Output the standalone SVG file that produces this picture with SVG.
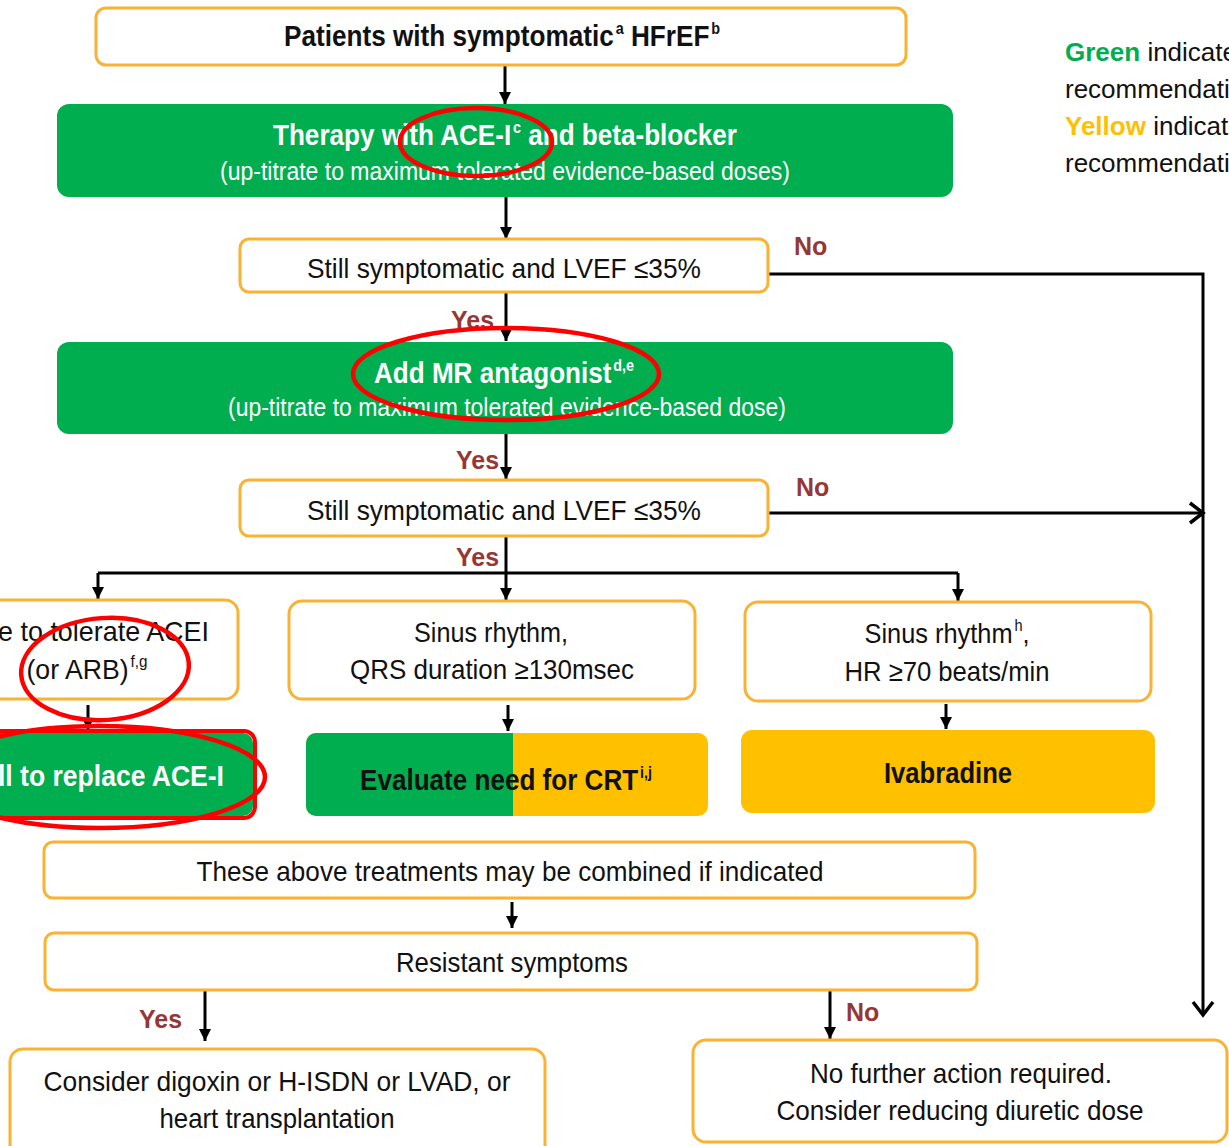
<svg xmlns="http://www.w3.org/2000/svg" width="1229" height="1146" viewBox="0 0 1229 1146">
<style>
text{font-family:"Liberation Sans Narrow","Liberation Sans",Arial,sans-serif;}
.box{fill:#fff;stroke:#F9B233;stroke-width:3;}
.g{fill:#00AD4F;}
.y{fill:#FFC000;}
.t{font-size:28px;fill:#111;text-anchor:middle;}
.tb{font-size:29px;font-weight:bold;fill:#111;text-anchor:middle;}
.tw{font-size:29px;font-weight:bold;fill:#fff;text-anchor:middle;}
.ts{font-size:25px;fill:#fff;text-anchor:middle;}
.lbl{font-size:25px;font-weight:bold;fill:#953735;}
.sup{font-size:16px;}
.ln{stroke:#000;stroke-width:3;fill:none;}
.red{fill:none;stroke:#F00;stroke-width:4.5;}
.leg{font-size:26px;fill:#111;}
</style>
<defs>
<marker id="ah" markerUnits="userSpaceOnUse" markerWidth="14" markerHeight="14" refX="12" refY="6" orient="auto">
<path d="M0,0 L12,6 L0,12 z" fill="#000"/>
</marker>
<marker id="va" markerUnits="userSpaceOnUse" markerWidth="20" markerHeight="24" refX="15" refY="12" orient="auto">
<path d="M2,2 L15,12 L2,22" fill="none" stroke="#000" stroke-width="3.5"/>
</marker>
</defs>

<g id="connectors">
<line class="ln" x1="505" y1="66" x2="505" y2="104" marker-end="url(#ah)"/>
<line class="ln" x1="506" y1="197" x2="506" y2="239" marker-end="url(#ah)"/>
<line class="ln" x1="506" y1="292" x2="506" y2="341" marker-end="url(#ah)"/>
<line class="ln" x1="506" y1="434" x2="506" y2="479" marker-end="url(#ah)"/>
<polyline class="ln" points="506,537 506,573"/>
<polyline class="ln" points="98,573 958,573"/>
<line class="ln" x1="98" y1="573" x2="98" y2="599" marker-end="url(#ah)"/>
<line class="ln" x1="506" y1="573" x2="506" y2="600" marker-end="url(#ah)"/>
<line class="ln" x1="958" y1="573" x2="958" y2="601" marker-end="url(#ah)"/>
<line class="ln" x1="88" y1="705" x2="88" y2="730" marker-end="url(#ah)"/>
<line class="ln" x1="508" y1="705" x2="508" y2="731" marker-end="url(#ah)"/>
<line class="ln" x1="946" y1="704" x2="946" y2="729" marker-end="url(#ah)"/>
<line class="ln" x1="512" y1="902" x2="512" y2="928" marker-end="url(#ah)"/>
<line class="ln" x1="205" y1="990" x2="205" y2="1041" marker-end="url(#ah)"/>
<line class="ln" x1="830" y1="990" x2="830" y2="1039" marker-end="url(#ah)"/>
<polyline class="ln" points="768,274 1203,274 1203,1015" marker-end="url(#va)"/>
<line class="ln" x1="768" y1="513" x2="1203" y2="513" marker-end="url(#va)"/>
<text class="lbl" x="794" y="255">No</text>
<text class="lbl" x="796" y="496">No</text>
<text class="lbl" x="846" y="1021">No</text>
<text class="lbl" x="451" y="329">Yes</text>
<text class="lbl" x="456" y="469">Yes</text>
<text class="lbl" x="456" y="566">Yes</text>
<text class="lbl" x="139" y="1028">Yes</text>
</g>

<g id="n-start">
<rect class="box" x="96" y="8" width="810" height="57" rx="10"/>
<text class="tb" x="502" y="46" textLength="436" lengthAdjust="spacingAndGlyphs">Patients with symptomatic<tspan class="sup" dx="2" dy="-12">a</tspan><tspan dy="12"> HFrEF</tspan><tspan class="sup" dx="2" dy="-12">b</tspan></text>
</g>

<g id="n-therapy">
<rect class="g" x="57" y="104" width="896" height="93" rx="12"/>
<text class="tw" x="505" y="145" textLength="464" lengthAdjust="spacingAndGlyphs">Therapy with ACE-I<tspan class="sup" dx="2" dy="-12">c</tspan><tspan dy="12"> and beta-blocker</tspan></text>
<text class="ts" x="505" y="180" textLength="570" lengthAdjust="spacingAndGlyphs">(up-titrate to maximum tolerated evidence-based doses)</text>
</g>

<g id="n-still1">
<rect class="box" x="240" y="239" width="528" height="53" rx="9"/>
<text class="t" x="504" y="278" textLength="394" lengthAdjust="spacingAndGlyphs">Still symptomatic and LVEF ≤35%</text>
</g>

<g id="n-mra">
<rect class="g" x="57" y="342" width="896" height="92" rx="12"/>
<text class="tw" x="504" y="383" textLength="260" lengthAdjust="spacingAndGlyphs">Add MR antagonist<tspan class="sup" dx="2" dy="-12">d,e</tspan></text>
<text class="ts" x="507" y="416" textLength="558" lengthAdjust="spacingAndGlyphs">(up-titrate to maximum tolerated evidence-based dose)</text>
</g>

<g id="n-still2">
<rect class="box" x="240" y="480" width="528" height="56" rx="9"/>
<text class="t" x="504" y="520" textLength="394" lengthAdjust="spacingAndGlyphs">Still symptomatic and LVEF ≤35%</text>
</g>

<g id="n-unable">
<rect class="box" x="-60" y="600" width="298" height="99" rx="13"/>
<text class="t" x="209" y="641" style="text-anchor:end" textLength="211" lengthAdjust="spacingAndGlyphs">e to tolerate ACEI</text>
<text class="t" x="87" y="679" textLength="121" lengthAdjust="spacingAndGlyphs">(or ARB)<tspan class="sup" dx="2" dy="-12">f,g</tspan></text>
</g>

<g id="n-arni">
<rect class="g" x="-60" y="733" width="313" height="83" rx="10"/>
<rect fill="none" stroke="#F00" stroke-width="4" x="-60" y="731" width="315" height="87" rx="11"/>
<text class="tw" x="224" y="786" style="text-anchor:end" textLength="226" lengthAdjust="spacingAndGlyphs">ll to replace ACE-I</text>
</g>

<g id="n-qrs">
<rect class="box" x="289" y="601" width="406" height="98" rx="13"/>
<text class="t" x="491" y="642" textLength="154" lengthAdjust="spacingAndGlyphs">Sinus rhythm,</text>
<text class="t" x="492" y="679" textLength="284" lengthAdjust="spacingAndGlyphs">QRS duration ≥130msec</text>
</g>

<g id="n-crt">
<rect class="y" x="306" y="733" width="402" height="83" rx="10"/>
<path class="g" d="M316,733 H513 V816 H316 A10,10 0 0 1 306,806 V743 A10,10 0 0 1 316,733 z"/>
<text class="tb" x="506" y="790" textLength="292" lengthAdjust="spacingAndGlyphs">Evaluate need for CRT<tspan class="sup" dx="2" dy="-12">i,j</tspan></text>
</g>

<g id="n-hr">
<rect class="box" x="745" y="602" width="406" height="99" rx="13"/>
<text class="t" x="947" y="643" textLength="165" lengthAdjust="spacingAndGlyphs">Sinus rhythm<tspan class="sup" dx="2" dy="-12">h</tspan><tspan dy="12">,</tspan></text>
<text class="t" x="947" y="681" textLength="205" lengthAdjust="spacingAndGlyphs">HR ≥70 beats/min</text>
</g>

<g id="n-ivab">
<rect class="y" x="741" y="730" width="414" height="83" rx="11"/>
<text class="tb" x="948" y="783" textLength="128" lengthAdjust="spacingAndGlyphs">Ivabradine</text>
</g>

<g id="n-combined">
<rect class="box" x="44" y="842" width="931" height="56" rx="9"/>
<text class="t" x="510" y="881" textLength="627" lengthAdjust="spacingAndGlyphs">These above treatments may be combined if indicated</text>
</g>

<g id="n-resistant">
<rect class="box" x="45" y="933" width="932" height="57" rx="9"/>
<text class="t" x="512" y="972" textLength="232" lengthAdjust="spacingAndGlyphs">Resistant symptoms</text>
</g>

<g id="n-digoxin">
<rect class="box" x="10" y="1049" width="535" height="110" rx="13"/>
<text class="t" x="277" y="1091" textLength="467" lengthAdjust="spacingAndGlyphs">Consider digoxin or H-ISDN or LVAD, or</text>
<text class="t" x="277" y="1128" textLength="235" lengthAdjust="spacingAndGlyphs">heart transplantation</text>
</g>

<g id="n-noaction">
<rect class="box" x="693" y="1040" width="534" height="102" rx="13"/>
<text class="t" x="961" y="1083" textLength="302" lengthAdjust="spacingAndGlyphs">No further action required.</text>
<text class="t" x="960" y="1120" textLength="367" lengthAdjust="spacingAndGlyphs">Consider reducing diuretic dose</text>
</g>

<g id="legend">
<text class="leg" x="1065" y="61"><tspan font-weight="bold" fill="#00AD4F">Green</tspan> indicate</text>
<text class="leg" x="1065" y="98">recommendati</text>
<text class="leg" x="1065" y="135"><tspan font-weight="bold" fill="#FFC000">Yellow</tspan> indicate</text>
<text class="leg" x="1065" y="172">recommendati</text>
</g>

<g id="annotations">
<ellipse class="red" cx="476" cy="142" rx="76" ry="34"/>
<ellipse class="red" cx="506" cy="374" rx="153" ry="46"/>
<ellipse class="red" cx="105" cy="669" rx="84" ry="51" transform="rotate(-4 105 669)"/>
<ellipse class="red" cx="100" cy="777" rx="165" ry="51"/>
</g>
</svg>
